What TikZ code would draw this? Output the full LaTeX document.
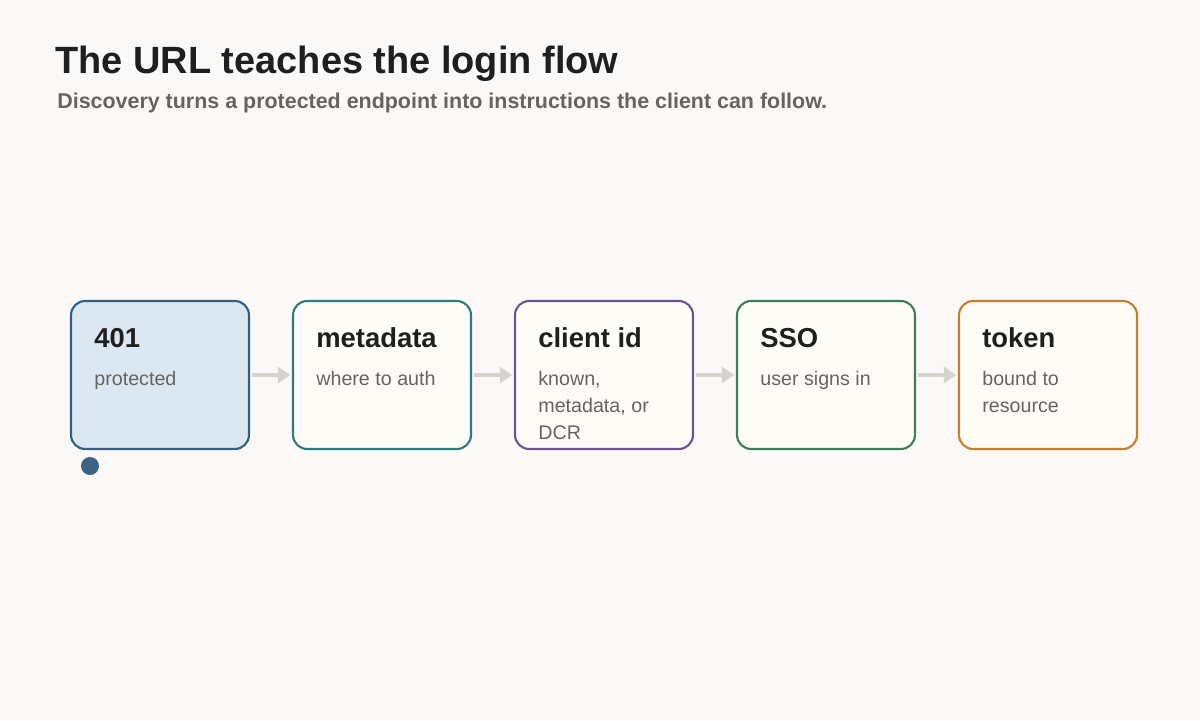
\documentclass[tikz,border=0pt]{standalone}
\usepackage{fontspec}
\setmainfont{Liberation Sans}
\usetikzlibrary{positioning,arrows.meta}
\definecolor{bgc}{HTML}{FAF9F7}
\definecolor{inkc}{HTML}{1F1F1F}
\definecolor{greyc}{HTML}{666461}
\definecolor{arrowc}{HTML}{D5D3CC}
\definecolor{paperc}{HTML}{FDFCF7}
\definecolor{bluec}{HTML}{2F5F85}
\definecolor{bluefill}{HTML}{DCE8F1}
\definecolor{tealc}{HTML}{2E7D74}
\definecolor{purplec}{HTML}{6B5394}
\definecolor{greenc}{HTML}{3D7D58}
\definecolor{orangec}{HTML}{C57F2A}
\definecolor{dotc}{HTML}{3A6386}
\tikzset{
  stepbox/.style={draw=#1, line width=1.2pt, rounded corners=8pt, fill=paperc,
    minimum width=3.56cm, minimum height=2.96cm, inner sep=0pt},
  head/.style={anchor=base west, inner sep=0pt, font=\bfseries\fontsize{15.6}{18}\selectfont, text=inkc},
  body/.style={anchor=base west, inner sep=0pt, align=left, font=\fontsize{11.2}{15.3}\selectfont, text=greyc},
  flow/.style={arrowc, line width=2.2pt, -{Triangle[length=7pt,width=9pt]}}
}
\begin{document}
\begin{tikzpicture}[x=0.02cm,y=-0.02cm]
\fill[bgc] (0,0) rectangle (1200,720);
\useasboundingbox (0,0) rectangle (1200,720);
% title
\node[anchor=base west, inner sep=0pt, font=\bfseries\fontsize{21.6}{26}\selectfont, text=inkc] (title) at (55,73) {The URL teaches the login flow};
\node[anchor=base west, inner sep=0pt, font=\bfseries\fontsize{12.2}{15}\selectfont, text=greyc] (subtitle) at (57,108) {Discovery turns a protected endpoint into instructions the client can follow.};
% steps
\node[stepbox=bluec, fill=bluefill] (unauth) at (160,375) {};
\node[stepbox=tealc] (meta) at (382,375) {};
\node[stepbox=purplec] (client) at (604,375) {};
\node[stepbox=greenc] (sso) at (826,375) {};
\node[stepbox=orangec] (token) at (1048,375) {};
\node[head] (unauth-h) at (94,347) {401};
\node[body] (unauth-b) at (94,385) {protected};
\node[head] (meta-h) at (316,347) {metadata};
\node[body] (meta-b) at (316,385) {where to auth};
\node[head] (client-h) at (538,347) {client id};
\node[body, anchor=north west] (client-b) at (538,371) {known,\\metadata, or\\DCR};
\node[head] (sso-h) at (760,347) {SSO};
\node[body] (sso-b) at (760,385) {user signs in};
\node[head] (token-h) at (982,347) {token};
\node[body, anchor=north west] (token-b) at (982,371) {bound to\\resource};
% arrows
\draw[flow] ([xshift=1]unauth.east) -- ([xshift=-1]meta.west);
\draw[flow] ([xshift=1]meta.east) -- ([xshift=-1]client.west);
\draw[flow] ([xshift=1]client.east) -- ([xshift=-1]sso.west);
\draw[flow] ([xshift=1]sso.east) -- ([xshift=-1]token.west);
% marker
\fill[dotc] (90,466) circle (9);
\end{tikzpicture}
\end{document}
